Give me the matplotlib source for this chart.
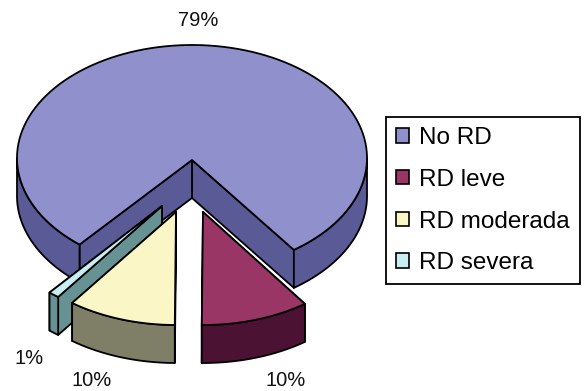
import matplotlib
matplotlib.use('Agg')
import matplotlib.pyplot as plt
import numpy as np
from matplotlib.patches import Patch, Polygon

plt.rcParams['font.family'] = ['Liberation Sans', 'DejaVu Sans']

labels = ['No RD', 'RD leve', 'RD moderada', 'RD severa']
values = [79, 10, 10, 1]
pct_labels = ['79%', '10%', '10%', '1%']

top_colors = ['#9090cc', '#993666', '#fbf6c6', '#c8eef2']
side_colors = ['#5a5a96', '#4c1234', '#7f7f68', '#669294']

# apex and ellipse centre of each exploded slice (pixels)
apex = [(192, 160), (203, 212), (176, 212), (162, 206)]
centre = [(192, 158), (203, 212), (176, 212), (162, 206)]
radius_x = 175
radius_y = 113
depth = 38
start_angle = 220
pct_pos = [(198, 21), (286, 380), (92, 380), (29, 358)]

EDGE = dict(edgecolor='black', linewidth=1.3, joinstyle='round')


def arc(c, a0, a1):
    # angles run clockwise from the top of the ellipse
    t = np.radians(np.linspace(a0, a1, 120))
    return np.column_stack([c[0] + radius_x * np.sin(t), c[1] - radius_y * np.cos(t)])


def down(pts):
    return pts + np.array([0, depth])


def draw_slice(ax, i, a0, a1):
    c = centre[i]
    tip = np.array([apex[i]], dtype=float)
    # cut faces, far one first
    for a in (a1, a0):
        end = arc(c, a, a)[:1]
        wall = np.vstack([tip, end, down(end), down(tip)])
        ax.add_patch(Polygon(wall, facecolor=side_colors[i], **EDGE))
    # outer rim, only the part facing the viewer
    for lo, hi in ((90, 270), (450, 630)):
        r0, r1 = max(a0, lo), min(a1, hi)
        if r1 > r0:
            rim = arc(c, r0, r1)
            ax.add_patch(Polygon(np.vstack([rim, down(rim)[::-1]]),
                                 facecolor=side_colors[i], **EDGE))
    top = np.vstack([tip, arc(c, a0, a1)])
    ax.add_patch(Polygon(top, facecolor=top_colors[i], **EDGE))


fig = plt.figure(figsize=(5.86, 3.91), dpi=100)
ax = fig.add_axes([0, 0, 1, 1])
ax.set_xlim(0, 586)
ax.set_ylim(391, 0)
ax.axis('off')

angles = start_angle + np.cumsum([0] + values) * 3.6
spans = [(angles[i], angles[i + 1]) for i in range(len(values))]
# No RD wraps past the top, the others sit in the gap below it
spans[1:] = [(a0 - 360, a1 - 360) for a0, a1 in spans[1:]]

for i in (0, 3, 2, 1):
    draw_slice(ax, i, *spans[i])

for txt, (x, y) in zip(pct_labels, pct_pos):
    ax.text(x, y, txt, fontsize=14.5, ha='center', va='center', color='#111111')

handles = [Patch(facecolor=c, edgecolor='black', linewidth=1.2) for c in top_colors]
leg = ax.legend(handles, labels, loc='upper left', bbox_to_anchor=(386, 117),
                bbox_transform=ax.transData, borderaxespad=0, fontsize=17.5,
                frameon=True, fancybox=False, edgecolor='black', framealpha=1,
                handlelength=0.53, handleheight=0.53, handletextpad=0.41,
                labelspacing=0.81, borderpad=0.42)
leg.get_frame().set_linewidth(1.3)

fig.savefig('out.png', dpi=100)
